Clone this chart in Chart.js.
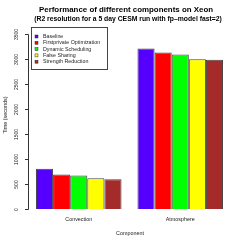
<!DOCTYPE html>
<html><head><meta charset="utf-8">
<script src="https://cdn.jsdelivr.net/npm/chart.js@4/dist/chart.umd.min.js"></script>
<style>html,body{margin:0;padding:0;background:#fff}canvas{display:block}</style>
</head><body>
<canvas id="c" width="245" height="245"></canvas>
<script>
const categories = ['Convection', 'Atmosphere'];
const seriesNames = ['Baseline', 'Firstprivate Optimization', 'Dynamic Scheduling', 'False Sharing', 'Strength Reduction'];
const baseline = [805, 3210];
const firstprivate = [690, 3130];
const dynamicSched = [670, 3090];
const falseSharing = [615, 2995];
const strengthRed = [595, 2985];
const yTicks = [0, 500, 1000, 1500, 2000, 2500, 3000, 3500];
const colors = ['#5500ff', '#ff0000', '#00ff00', '#ffff00', '#a52a2a'];
const titleLines = ['Performance of different components on Xeon', '(R2 resolution for a 5 day CESM run with fp\u2013model fast=2)'];
const xTitle = 'Component';
const yTitle = 'Time (seconds)';

const seriesValues = [baseline, firstprivate, dynamicSched, falseSharing, strengthRed];
const FONT = '"Liberation Sans", Arial, sans-serif';

const decor = {
  id: 'decor',
  afterDraw(chart) {
    const ctx = chart.ctx;
    const ys = chart.scales.y, xs = chart.scales.x;
    const ax = chart.chartArea.left;
    ctx.save();
    ctx.strokeStyle = '#333';
    ctx.lineWidth = 1;
    ctx.fillStyle = '#222';
    // y axis
    const y0 = ys.getPixelForValue(yTicks[0]);
    const y1 = ys.getPixelForValue(yTicks[yTicks.length - 1]);
    ctx.beginPath();
    ctx.moveTo(ax + 0.5, Math.round(y0) + 0.5);
    ctx.lineTo(ax + 0.5, Math.round(y1) + 0.5);
    ctx.stroke();
    ctx.font = '5px ' + FONT;
    ctx.textAlign = 'center';
    ctx.textBaseline = 'middle';
    yTicks.forEach(v => {
      const py = Math.round(ys.getPixelForValue(v)) + 0.5;
      ctx.beginPath();
      ctx.moveTo(ax - 3, py);
      ctx.lineTo(ax + 0.5, py);
      ctx.stroke();
      ctx.save();
      ctx.translate(17, py);
      ctx.rotate(-Math.PI / 2);
      ctx.fillText(String(v), 0, 0);
      ctx.restore();
    });
    // y title
    ctx.font = '5.4px ' + FONT;
    ctx.save();
    ctx.translate(6, 115);
    ctx.rotate(-Math.PI / 2);
    ctx.fillText(yTitle, 0, 0);
    ctx.restore();
    // x category labels
    categories.forEach((c, i) => {
      ctx.fillText(c, xs.getPixelForValue(i), 220);
    });
    ctx.fillText(xTitle, 130, 234);
    // title
    ctx.fillStyle = '#000';
    ctx.font = 'bold 7.9px ' + FONT;
    ctx.fillText(titleLines[0], 126, 10);
    ctx.font = 'bold 6.8px ' + FONT;
    ctx.fillText(titleLines[1], 128, 19);
    // legend
    const lx = 31.5, ly = 27.5, lw = 76, lh = 42;
    ctx.strokeStyle = '#444';
    ctx.strokeRect(lx, ly, lw, lh);
    ctx.font = '5.3px ' + FONT;
    ctx.textAlign = 'left';
    chart.data.datasets.forEach((ds, i) => {
      const cy = 36.5 + i * 6.3;
      ctx.fillStyle = ds.backgroundColor;
      ctx.fillRect(35, cy - 1.5, 3, 3);
      ctx.strokeStyle = '#333';
      ctx.lineWidth = 0.5;
      ctx.strokeRect(35, cy - 1.5, 3, 3);
      ctx.fillStyle = '#222';
      ctx.fillText(ds.label, 43, cy);
    });
    ctx.restore();
  }
};

new Chart(document.getElementById('c'), {
  type: 'bar',
  data: {
    labels: categories,
    datasets: seriesNames.map((n, i) => ({
      label: n,
      data: seriesValues[i],
      backgroundColor: colors[i],
      borderColor: '#444',
      borderWidth: 1,
      borderSkipped: 'bottom',
      categoryPercentage: 0.843,
      barPercentage: 1.0
    }))
  },
  options: {
    responsive: false,
    animation: false,
    devicePixelRatio: 1,
    layout: { padding: { left: 28, right: 14, top: 34, bottom: 36 } },
    plugins: { legend: { display: false }, title: { display: false }, tooltip: { enabled: false } },
    scales: {
      x: { display: false, grid: { display: false } },
      y: { display: false, min: 0, max: 3500, grid: { display: false } }
    }
  },
  plugins: [decor]
});
</script>
</body></html>
